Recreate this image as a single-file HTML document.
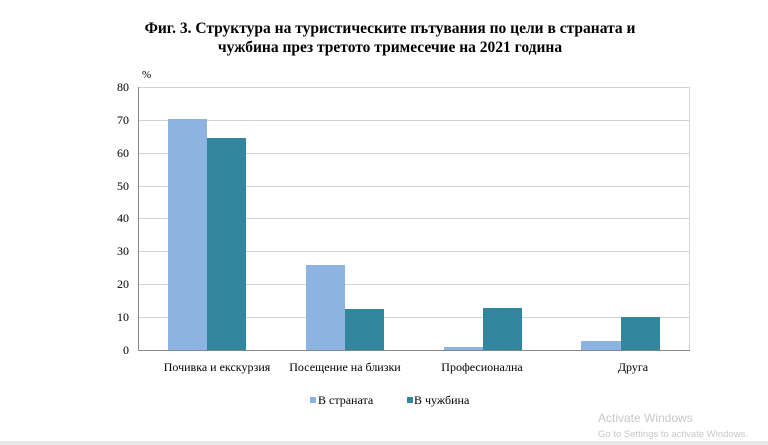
<!DOCTYPE html>
<html><head><style>
body{margin:0;width:768px;height:445px;background:#fff;overflow:hidden;position:relative;font-family:"Liberation Serif",serif}
</style></head><body>
<svg width="768" height="445" xmlns="http://www.w3.org/2000/svg" style="position:absolute;left:0;top:0">
<text x="390" y="33" text-anchor="middle" font-family="Liberation Serif" font-weight="bold" font-size="15.5">Фиг. 3. Структура на туристическите пътувания по цели в страната и</text>
<text x="390" y="52" text-anchor="middle" font-family="Liberation Serif" font-weight="bold" font-size="15.5">чужбина през третото тримесечие на 2021 година</text>
<g stroke="#d4d4d4" stroke-width="1">
<line x1="138" y1="87.5" x2="690" y2="87.5"/>
<line x1="138" y1="120.5" x2="690" y2="120.5"/>
<line x1="138" y1="153.5" x2="690" y2="153.5"/>
<line x1="138" y1="186.5" x2="690" y2="186.5"/>
<line x1="138" y1="218.5" x2="690" y2="218.5"/>
<line x1="138" y1="251.5" x2="690" y2="251.5"/>
<line x1="138" y1="284.5" x2="690" y2="284.5"/>
<line x1="138" y1="317.5" x2="690" y2="317.5"/>
<line x1="689.5" y1="87" x2="689.5" y2="350"/>
</g>
<g fill="#8db3e2">
<rect x="168" y="119" width="39" height="231"/>
<rect x="306" y="265" width="39" height="85"/>
<rect x="444" y="347" width="39" height="3"/>
<rect x="581" y="341" width="40" height="9"/>
</g>
<g fill="#31859c">
<rect x="207" y="138" width="39" height="212"/>
<rect x="345" y="309" width="39" height="41"/>
<rect x="483" y="308" width="39" height="42"/>
<rect x="621" y="317" width="39" height="33"/>
</g>
<line x1="138.5" y1="87" x2="138.5" y2="350" stroke="#888"/>
<line x1="138" y1="350.5" x2="690" y2="350.5" stroke="#888"/>
<g font-family="Liberation Serif" font-size="12" text-anchor="end">
<text x="129" y="91">80</text><text x="129" y="124">70</text><text x="129" y="157">60</text>
<text x="129" y="190">50</text><text x="129" y="222">40</text><text x="129" y="255">30</text>
<text x="129" y="288">20</text><text x="129" y="321">10</text><text x="129" y="354">0</text>
</g>
<text x="142" y="78" font-family="Liberation Serif" font-size="11">%</text>
<g font-family="Liberation Serif" font-size="12" text-anchor="middle">
<text x="217" y="371">Почивка и  екскурзия</text>
<text x="345" y="371">Посещение на близки</text>
<text x="482" y="371">Професионална</text>
<text x="633" y="371">Друга</text>
</g>
<rect x="310" y="397" width="6" height="6" fill="#8db3e2"/>
<text x="318" y="404" font-family="Liberation Serif" font-size="12">В страната</text>
<rect x="407" y="397" width="6" height="6" fill="#31859c"/>
<text x="414" y="404" font-family="Liberation Serif" font-size="12">В чужбина</text>
<text x="598" y="422" font-family="Liberation Sans" font-size="12" fill="#c8c8c8">Activate Windows</text>
<text x="598" y="437" font-family="Liberation Sans" font-size="9.5" fill="#c8c8c8">Go to Settings to activate Windows.</text>
<rect x="0" y="441" width="768" height="4" fill="#e8e8e8"/>
</svg>
</body></html>
